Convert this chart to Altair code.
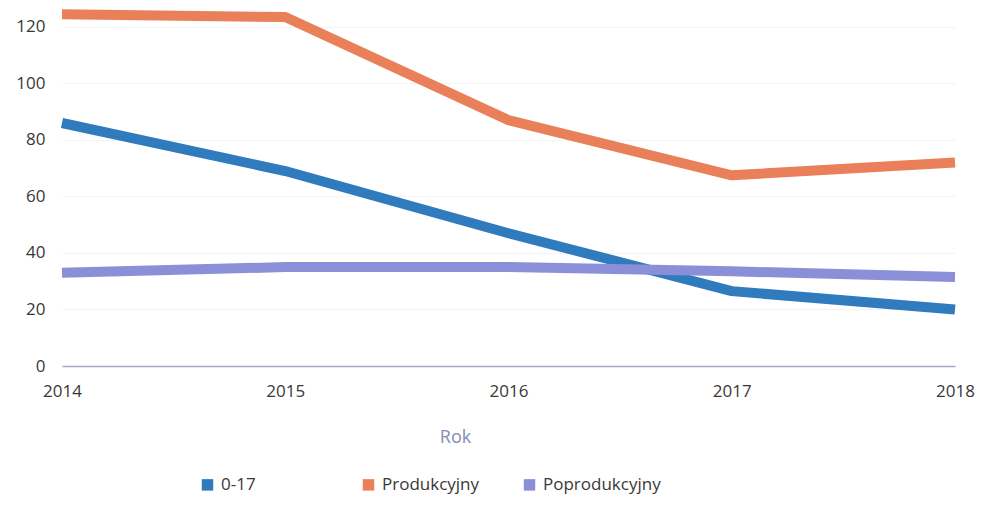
import altair as alt
import pandas as pd

years = [2014, 2015, 2016, 2017, 2018]
series_names = ["0-17", "Produkcyjny", "Poprodukcyjny"]
v_0_17 = [86, 69, 47, 26.5, 20]
v_prod = [124.5, 123.5, 87, 67.5, 72]
v_poprod = [33, 35, 35, 33.5, 31.5]
colors = ["#2f7bbd", "#e9805a", "#8b8fd8"]

rows = []
for name, vals in zip(series_names, [v_0_17, v_prod, v_poprod]):
    for y, v in zip(years, vals):
        rows.append({"Rok": y, "Wartość": v, "Grupa": name})
df = pd.DataFrame(rows)

font = "Open Sans"

chart = alt.Chart(df).mark_line(strokeWidth=10, strokeCap="butt", strokeJoin="round").encode(
    x=alt.X("Rok:Q",
            scale=alt.Scale(domain=[2014, 2018], nice=False, zero=False),
            axis=alt.Axis(values=years, format="d", title="Rok", grid=False,
                          ticks=False, domain=True, domainColor="#a3a6cc", domainWidth=1.5,
                          labelFontSize=17, labelColor="#383838", labelPadding=17,
                          labelFlush=False,
                          labelFont=font, titleFont=font, titleFontSize=18,
                          titleFontWeight="normal", titleColor="#7f8fb8",
                          titlePadding=29, titleX=393, titleAlign="center")),
    y=alt.Y("Wartość:Q",
            scale=alt.Scale(domain=[0, 126.7], nice=False),
            axis=alt.Axis(values=[0, 20, 40, 60, 80, 100, 120], title=None,
                          domain=False, ticks=False, labelFontSize=17,
                          labelColor="#383838", labelPadding=17, labelFont=font,
                          gridColor="#f3f3f3", gridWidth=1)),
    color=alt.Color("Grupa:N",
                    scale=alt.Scale(domain=series_names, range=colors),
                    legend=alt.Legend(title=None, orient="none", direction="horizontal",
                                      legendX=137, legendY=468,
                                      symbolType="square", symbolSize=30,
                                      symbolStrokeWidth=6,
                                      labelFontSize=17, labelFont=font, labelColor="#383838",
                                      gridAlign="all", columnPadding=14, labelOffset=5)),
).properties(
    width=893, height=358,
    autosize=alt.AutoSizeParams(type="none"),
    padding={"left": 54, "top": 0, "right": 22, "bottom": 143},
).configure(background="white").configure_view(stroke=None)

chart.save("out.html", embed_options={"renderer": "svg", "actions": False})
